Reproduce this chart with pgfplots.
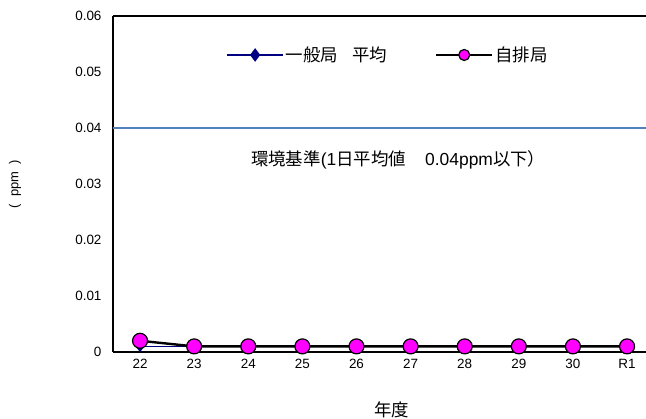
\documentclass[border=0pt]{standalone}
\usepackage{pgfplots}
\pgfplotsset{compat=1.18}
\usepackage{fontspec}
\setmainfont{Liberation Sans}
\newfontfamily\jp{Noto Sans CJK JP}
\definecolor{navy}{RGB}{0,0,128}
\definecolor{stdline}{RGB}{79,129,189}
\definecolor{pink}{RGB}{255,0,255}

\begin{document}
\begin{tikzpicture}
\begin{axis}[
    scale only axis,
    width=533bp, height=336bp,
    xmin=-0.5, xmax=9.35,
    ymin=0, ymax=0.06,
    axis x line*=box,
    axis y line*=left,
    axis line style={line width=2.2bp, black},
    major tick length=0pt,
    xtick={0,...,9},
    xticklabels={22,23,24,25,26,27,28,29,30,R1},
    ytick={0,0.01,0.02,0.03,0.04,0.05,0.06},
    yticklabels={0,0.01,0.02,0.03,0.04,0.05,0.06},
    scaled y ticks=false,
    tick label style={font=\fontsize{13.5}{15}\selectfont},
    xticklabel style={yshift=-4bp},
    yticklabel style={xshift=-8bp},
    xlabel={\jp 年度},
    xlabel style={at={(axis description cs:0.523,0)}, anchor=center, yshift=-58bp, font=\fontsize{17.5}{19}\selectfont},
    ylabel={(\ \ ppm\ \ )},
    ylabel style={at={(axis description cs:-0.184,0.5)}, anchor=center, font=\fontsize{13}{15}\selectfont},
    legend columns=2,
    legend style={at={(axis description cs:0.516,0.884)}, anchor=center, draw=none, fill=none,
        font=\fontsize{17.5}{19}\selectfont\jp,
        /tikz/every even column/.append style={column sep=46bp}},
    legend image code/.code={\draw[mark repeat=2,mark phase=2,#1,mark size=5.5bp] plot coordinates {(0bp,0bp)(28bp,0bp)(56bp,0bp)};},
]
% environmental standard
\addplot[stdline, line width=1.4bp, forget plot] coordinates {(-0.5,0.04) (9.35,0.04)};

\addplot[navy, line width=1.6bp, mark=diamond*, mark size=4.5bp, mark options={fill=navy}]
    coordinates {(0,0.001) (1,0.001) (2,0.001) (3,0.001) (4,0.001) (5,0.001) (6,0.001) (7,0.001) (8,0.001) (9,0.001)};
\addplot[black, line width=2.4bp, mark=*, mark size=7.5bp, mark options={fill=pink, draw=black, line width=1.2bp}]
    coordinates {(0,0.002) (1,0.001) (2,0.001) (3,0.001) (4,0.001) (5,0.001) (6,0.001) (7,0.001) (8,0.001) (9,0.001)};
\legend{一般局\hspace{0.8em}平均, 自排局}

\node[font=\fontsize{17.5}{19}\selectfont] at (axis cs:4.77,0.0343)
    {{\jp 環境基準}(1{\jp 日平均値}\hspace{1.1em}0.04ppm{\jp 以下）}};

\coordinate (bl) at (rel axis cs:0,0);
\coordinate (tr) at (rel axis cs:1,1);
\end{axis}
\pgfresetboundingbox
\path[use as bounding box] ([xshift=-113bp,yshift=-67bp]bl) rectangle ([yshift=16bp]tr);
\end{tikzpicture}
\end{document}
